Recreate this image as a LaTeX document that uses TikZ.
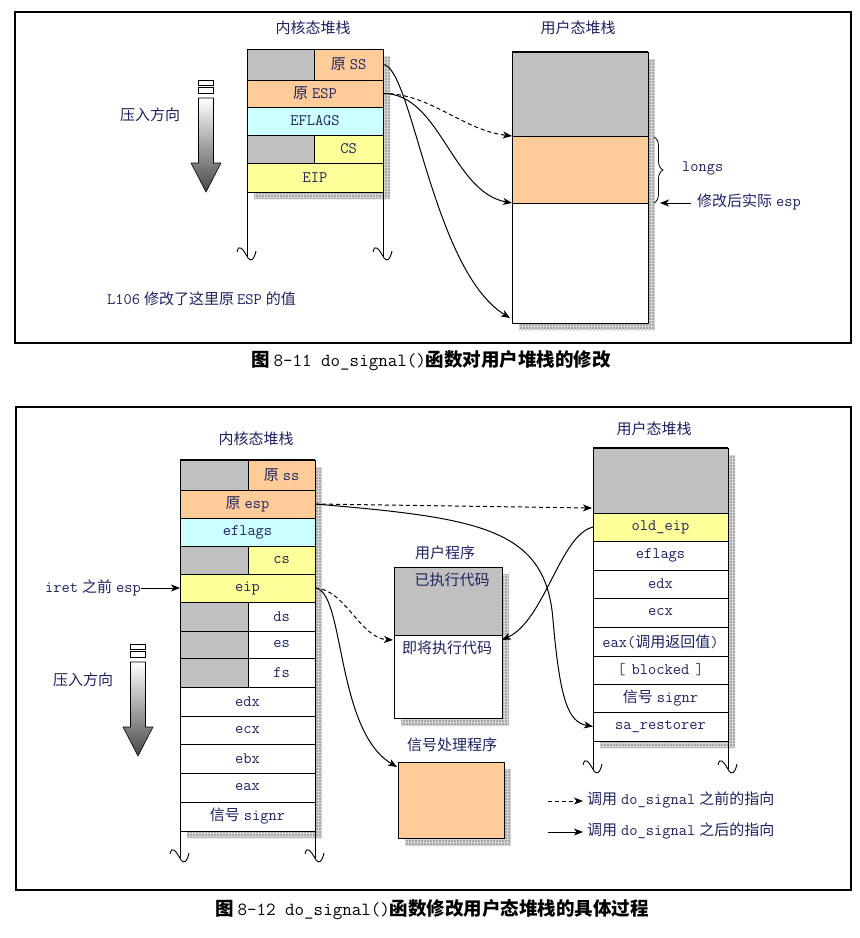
\documentclass[tikz,border=0pt]{standalone}
\usepackage{fontspec}
\newfontfamily\cjkf{Noto Sans CJK SC}
\usetikzlibrary{arrows.meta,decorations.pathreplacing,patterns,calc}
\definecolor{cgray}{RGB}{192,192,192}
\definecolor{corange}{RGB}{255,204,153}
\definecolor{ccyan}{RGB}{204,255,255}
\definecolor{cyellow}{RGB}{255,255,153}
\definecolor{ctext}{RGB}{30,35,95}
\definecolor{cbracket}{RGB}{110,40,120}
\definecolor{cshadow}{RGB}{168,168,168}
\definecolor{cshadowline}{RGB}{212,212,212}
\newcommand\zhs[1]{{\cjkf\fontsize{15}{17}\selectfont #1}}
\newcommand\zhcap[1]{{\cjkf\bfseries #1}}
\newcommand\stkcell[7]{\node[cellbox, fill=#6, minimum width={(#4)-(#2)}, minimum height={(#5)-(#3)}] (#1) at ({((#2)+(#4))/2},{((#3)+(#5))/2}) {#7};}
\newcommand\shadowrect[4]{\fill[cshadow] (#1,#2) rectangle (#3,#4); \fill[pattern=grid, pattern color=cshadowline] (#1,#2) rectangle (#3,#4);}
\newcommand\squig[2]{\draw[stackline] ({#1-10},{#2-7}) .. controls ({#1-8},{#2-16}) and ({#1-4},{#2-10}) .. ({#1+1},{#2-1}) .. controls ({#1+4},{#2+3}) and ({#1+7},{#2+1}) .. ({#1+9},{#2-8});}
\newcommand\pusharrow[2]{%
  \draw[line width=0.6pt, fill=white] ({#1-7.5},#2) rectangle ({#1+7.5},{#2+5});
  \draw[line width=0.6pt, fill=white] ({#1-7.5},{#2+7}) rectangle ({#1+7.5},{#2+13});
  \shadedraw[top color=white, bottom color=black!72, draw=black, line width=0.6pt] ({#1-7.5},{#2+18}) -- ({#1+7.5},{#2+18}) -- ({#1+7.5},{#2+83}) -- ({#1+15},{#2+83}) -- (#1,{#2+112}) -- ({#1-15},{#2+83}) -- ({#1-7.5},{#2+83}) -- cycle;}
\begin{document}
\begin{tikzpicture}[x=1pt,y=-1pt,
  cellbox/.style={draw=black, line width=0.9pt, inner sep=0pt, outer sep=0pt, text=ctext, font=\fontsize{16}{18}\selectfont\ttfamily},
  lbl/.style={inner sep=0pt, text=ctext, font=\fontsize{16}{18}\selectfont\ttfamily},
  title/.style={inner sep=0pt, text=ctext, font=\fontsize{15}{17}\selectfont},
  caption/.style={inner sep=0pt, text=black, font=\fontsize{18.5}{20}\selectfont\ttfamily},
  stackline/.style={line width=0.9pt},
  frame/.style={line width=1.6pt},
  conn/.style={line width=1pt, -{Stealth[length=9pt,width=7pt,inset=2.5pt]}},
  dashedconn/.style={conn, dash pattern=on 4pt off 3pt}]
\useasboundingbox (0,0) rectangle (860,938);
\fill[white] (0,0) rectangle (860,938);

% ================= Figure 8-11 =================
\draw[frame] (15,12) rectangle (851,343);
\node[title] (kt1) at (313,28) {\zhs{内核态堆栈}};
\node[title] (ut1) at (578,28) {\zhs{用户态堆栈}};
\shadowrect{254}{56}{390}{199}
\shadowrect{519}{59}{655}{330}
\stkcell{kss0}{247}{49}{314}{80}{cgray}{}
\stkcell{kss}{314}{49}{383}{80}{corange}{\zhs{原}\hspace{4pt}SS}
\stkcell{kesp}{247}{80}{383}{107}{corange}{\zhs{原}\hspace{4pt}ESP}
\stkcell{kefl}{247}{107}{383}{135}{ccyan}{EFLAGS}
\stkcell{kcs0}{247}{135}{314}{163}{cgray}{}
\stkcell{kcs}{314}{135}{383}{163}{cyellow}{CS}
\stkcell{keip}{247}{163}{383}{192}{cyellow}{EIP}
\draw[stackline] (keip.south west) -- (247,257);
\draw[stackline] (keip.south east) -- (383,257);
\squig{247}{259}
\squig{383}{259}
\stkcell{ugray}{512}{52}{648}{136}{cgray}{}
\stkcell{uorange}{512}{136}{648}{203}{corange}{}
\stkcell{uwhite}{512}{203}{648}{323}{white}{}
\draw[line width=1.6pt] (ugray.north west) -- (ugray.north east);
\node[title] (push1) at (150,115) {\zhs{压入方向}};
\pusharrow{206}{80}
\coordinate (b1) at (654,137);
\coordinate (b2) at (654,203);
\draw[line width=0.8pt, decorate, decoration={brace, amplitude=9pt}] (b1) -- (b2);
\node[lbl, anchor=west] (longs) at (682,168) {longs};
\node[lbl, anchor=west] (realesp) at (697,202) {\zhs{修改后实际}\hspace{4pt}esp};
\coordinate (re1) at (660,203);
\draw[conn] (realesp.west) ++(-6,1) -- (re1);
\coordinate (u1) at (510,318);
\draw[conn] (kss.east) .. controls (412,66) and (432,270) .. (u1);
\draw[conn] (kesp.east) .. controls (440,93) and (452,192) .. (uorange.south west);
\draw[dashedconn] (kesp.east) .. controls (430,93) and (462,130) .. (uorange.north west);
\node[lbl, anchor=west] (l106) at (107,299) {L106\hspace{4pt}\zhs{修改了这里原}\hspace{3pt}ESP\hspace{4pt}\zhs{的值}};
\node[caption] (cap1) at (431,361) {\zhcap{图}\hspace{4pt}8-11 do\_signal()\zhcap{函数对用户堆栈的修改}};

% ================= Figure 8-12 =================
\draw[frame] (16,407) rectangle (851,890);
\node[title] (kt2) at (256,439) {\zhs{内核态堆栈}};
\node[title] (ut2) at (654,429) {\zhs{用户态堆栈}};
\node[title] (tprog) at (445,553) {\zhs{用户程序}};
\node[title] (thand) at (452,745) {\zhs{信号处理程序}};
\shadowrect{187}{467}{322}{838}
\shadowrect{600}{455}{735}{748}
\shadowrect{401}{574}{509}{725}
\shadowrect{405}{769}{511}{845}
% kernel stack
\stkcell{bss0}{180}{460}{248}{490}{cgray}{}
\stkcell{bss}{248}{460}{315}{490}{corange}{\zhs{原}\hspace{4pt}ss}
\stkcell{besp}{180}{490}{315}{518}{corange}{\zhs{原}\hspace{4pt}esp}
\stkcell{befl}{180}{518}{315}{546}{ccyan}{eflags}
\stkcell{bcs0}{180}{546}{248}{574}{cgray}{}
\stkcell{bcs}{248}{546}{315}{574}{cyellow}{cs}
\stkcell{beip}{180}{574}{315}{602}{cyellow}{eip}
\stkcell{bds0}{180}{602}{248}{631}{cgray}{}
\stkcell{bds}{248}{602}{315}{631}{white}{ds}
\stkcell{bes0}{180}{631}{248}{658}{cgray}{}
\stkcell{bes}{248}{631}{315}{658}{white}{es}
\stkcell{bfs0}{180}{658}{248}{687}{cgray}{}
\stkcell{bfs}{248}{658}{315}{687}{white}{fs}
\stkcell{bedx}{180}{687}{315}{716}{white}{edx}
\stkcell{becx}{180}{716}{315}{744}{white}{ecx}
\stkcell{bebx}{180}{744}{315}{773}{white}{ebx}
\stkcell{beax}{180}{773}{315}{802}{white}{eax}
\stkcell{bsig}{180}{802}{315}{831}{white}{\zhs{信号}\hspace{4pt}signr}
\draw[line width=1.6pt] (bss0.north west) -- (bss.north east);
\draw[stackline] (bsig.south west) -- (180,858);
\draw[stackline] (bsig.south east) -- (315,858);
\squig{180}{861}
\squig{315}{861}
% user stack
\stkcell{vgray}{593}{448}{728}{513}{cgray}{}
\stkcell{voeip}{593}{513}{728}{541}{cyellow}{old\_eip}
\stkcell{vefl}{593}{541}{728}{570}{white}{eflags}
\stkcell{vedx}{593}{570}{728}{598}{white}{edx}
\stkcell{vecx}{593}{598}{728}{627}{white}{ecx}
\stkcell{veax}{593}{627}{728}{656}{white}{eax(\zhs{调用返回值})}
\stkcell{vblk}{593}{656}{728}{684}{white}{\textcolor{cbracket}{[}\hspace{6pt}blocked\hspace{6pt}\textcolor{cbracket}{]}}
\stkcell{vsig}{593}{684}{728}{712}{white}{\zhs{信号}\hspace{4pt}signr}
\stkcell{vres}{593}{712}{728}{741}{white}{sa\_restorer}
\draw[line width=1.6pt] (vgray.north west) -- (vgray.north east);
\draw[stackline] (vres.south west) -- (593,769);
\draw[stackline] (vres.south east) -- (728,769);
\squig{593}{772}
\squig{728}{772}
% user program
\stkcell{pexec}{394}{567}{502}{635}{cgray}{}
\stkcell{pnext}{394}{635}{502}{718}{white}{}
\node[title] (pexect) at (452,580) {\zhs{已执行代码}};
\node[title] (pnextt) at (447,648) {\zhs{即将执行代码}};
% handler
\stkcell{hand}{398}{762}{504}{838}{corange}{}
% push direction
\node[title] (push2) at (83,680) {\zhs{压入方向}};
\pusharrow{138}{644}
% iret
\node[lbl, anchor=east] (iret) at (141,588) {iret\hspace{4pt}\zhs{之前}\hspace{4pt}esp};
\draw[conn] (iret.east) -- (beip.west);
% connectors
\coordinate (vtgt) at (592,508);
\draw[dashedconn] (besp.east) -- (vtgt);
\draw[conn] (besp.east) .. controls (480,518) and (546,528) .. (553,620) .. controls (560,700) and (568,722) .. (vres.west);
\coordinate (pn) at (393,640);
\draw[dashedconn] (beip.east) .. controls (345,589) and (360,638) .. (pn);
\coordinate (hn) at (397,767);
\draw[conn] (beip.east) .. controls (345,590) and (335,730) .. (hn);
\coordinate (pe) at (502,640);
\draw[conn] (voeip.west) .. controls (560,535) and (545,620) .. (pe);
% legend
\coordinate (la1) at (548,801);
\coordinate (lb1) at (583,801);
\draw[dashedconn] (la1) -- (lb1);
\node[lbl, anchor=west] (lt1) at (587,800) {\zhs{调用}\hspace{4pt}do\_signal\hspace{4pt}\zhs{之前的指向}};
\coordinate (la2) at (548,832);
\coordinate (lb2) at (583,832);
\draw[conn] (la2) -- (lb2);
\node[lbl, anchor=west] (lt2) at (587,831) {\zhs{调用}\hspace{4pt}do\_signal\hspace{4pt}\zhs{之后的指向}};
\node[caption] (cap2) at (432,910) {\zhcap{图}\hspace{4pt}8-12 do\_signal()\zhcap{函数修改用户态堆栈的具体过程}};
\end{tikzpicture}
\end{document}
